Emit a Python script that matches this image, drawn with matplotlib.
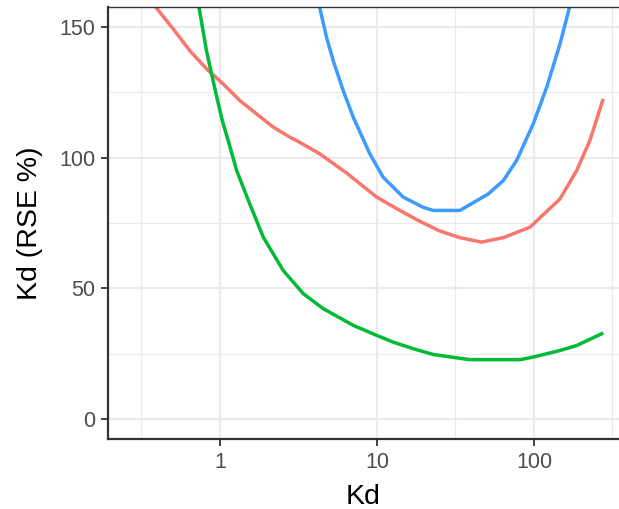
import numpy as np
import matplotlib
matplotlib.use("Agg")
import matplotlib.pyplot as plt
from matplotlib.ticker import FixedLocator, NullFormatter

plt.rcParams["font.family"] = ["Liberation Sans", "DejaVu Sans"]

# values
red_kd = [0.395, 0.505, 0.644, 0.822, 1.05, 1.34, 1.71, 2.19, 2.79, 3.23, 4.33, 4.55, 6.41,
          9.96, 14, 18.3, 25, 33.8, 46.4, 63.8, 94.4, 146.5, 187, 227, 274]
red_rse = [157.1, 149.1, 140.8, 133.9, 128.1, 121.8, 116.7, 111.6, 107.8, 105.8, 101.4, 100.5, 94.1,
           84.9, 79.8, 76, 72, 69.4, 67.7, 69.4, 73.4, 84.2, 95, 106.5, 121.8]

blue_kd = [4.33, 4.78, 5.27, 6.1, 7.07, 9.02, 10.96, 14.7, 19.7, 22.9, 33.8, 51.2, 63.8,
           77.6, 99, 120.5, 146.5, 168]
blue_rse = [157.1, 145.9, 137, 125.6, 115.4, 101.4, 92.5, 84.9, 81, 79.8, 79.8, 86.1, 91.2,
            98.9, 112.9, 126.8, 143.4, 157.1]

green_kd = [0.738, 0.822, 0.885, 1.0, 1.05, 1.13, 1.28, 1.55, 1.89, 2.53, 3.4, 4.55, 7.07,
            9.96, 12.7, 17, 22.8, 32.2, 39.1, 81.5, 99, 146.5, 187, 270]
green_rse = [157.1, 140.8, 132, 118, 112.9, 106.5, 95, 82.3, 69.6, 56.9, 48, 42.3, 35.9,
             32.1, 29.5, 27, 24.8, 23.5, 22.8, 22.8, 23.8, 26.3, 28.2, 32.7]

x_ticks = [1, 10, 100]
x_minor = [10 ** -0.5, 10 ** 1.5, 10 ** 2.5]
y_ticks = [0, 50, 100, 150]
y_minor = [25, 75, 125]

fig = plt.figure(figsize=(6.19, 5.09), dpi=100)
ax = fig.add_axes([108 / 619, 1 - 439 / 509, 1 - 108 / 619, (439 - 7) / 509])

ax.plot(red_kd, red_rse, color="#F8766D", lw=2.5)
ax.plot(green_kd, green_rse, color="#00BA38", lw=2.5)
ax.plot(blue_kd, blue_rse, color="#3D9BFF", lw=2.5)

ax.set_xscale("log")
ax.set_xlim(0.194, 348)
ax.set_ylim(-7.5, 157.5)

ax.xaxis.set_major_locator(FixedLocator(x_ticks))
ax.set_xticklabels([str(v) for v in x_ticks])
ax.xaxis.set_minor_locator(FixedLocator(x_minor))
ax.xaxis.set_minor_formatter(NullFormatter())
ax.yaxis.set_major_locator(FixedLocator(y_ticks))
ax.yaxis.set_minor_locator(FixedLocator(y_minor))

ax.grid(which="major", color="#EBEBEB", lw=1.5)
ax.grid(which="minor", color="#EBEBEB", lw=0.8)
ax.set_axisbelow(True)

ax.tick_params(which="major", length=5, width=1.3, color="#333333",
               labelsize=15.5, labelcolor="#4D4D4D", pad=4)
ax.tick_params(which="minor", length=0)

for side in ["left", "bottom"]:
    ax.spines[side].set_color("#333333")
    ax.spines[side].set_linewidth(1.6)
ax.spines["top"].set_color("#333333")
ax.spines["top"].set_linewidth(1.0)
ax.spines["right"].set_visible(False)

ax.set_xlabel("Kd", fontsize=20.5, labelpad=8)
ax.set_ylabel("Kd (RSE %)", fontsize=20.5, labelpad=12)

fig.savefig("out.png", dpi=100)
